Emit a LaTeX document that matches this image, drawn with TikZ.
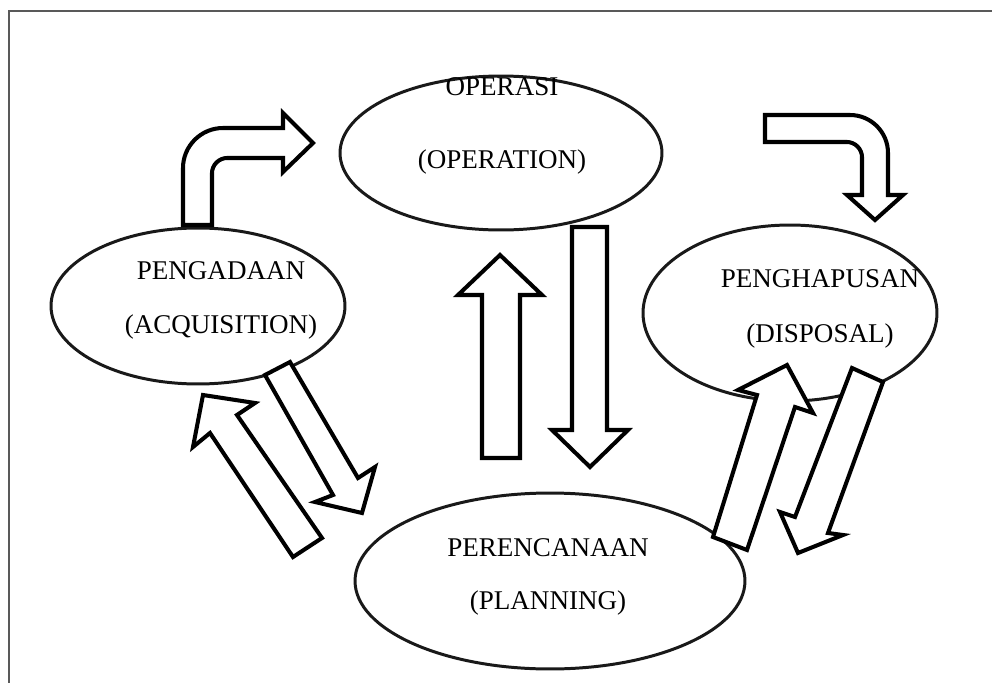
\documentclass[tikz,border=0pt]{standalone}
\usepackage{fontspec}
\setmainfont{Liberation Serif}
\usetikzlibrary{shapes.geometric}
\tikzset{
  phase/.style={draw, ellipse, line width=1.7pt, draw=black!90},
  phasetext/.style={font=\fontsize{15.4}{18}\selectfont, inner sep=0pt, anchor=base},
  blockarrow/.style={draw, fill=white, line width=2.3pt, line join=miter},
}
\begin{document}
\begin{tikzpicture}[x=0.02cm, y=-0.02cm]
        \useasboundingbox (0,0) rectangle (992,683);
        % frame
        \draw[line width=1.1pt, black!65] (9,683) -- (9,11) -- (992,11);
        % phases
        \node[phase, minimum width=6.44cm, minimum height=3.08cm] (operasi) at (501,153) {};
        \node[phase, minimum width=5.88cm, minimum height=3.12cm] (pengadaan) at (198,306) {};
        \node[phase, minimum width=5.88cm, minimum height=3.52cm] (penghapusan) at (790,313) {};
        \node[phase, minimum width=7.8cm, minimum height=3.52cm] (perencanaan) at (550,581) {};
        % labels
        \node[phasetext] (operasi1) at (502,95) {OPERASI};
        \node[phasetext] (operasi2) at (502,168) {(OPERATION)};
        \node[phasetext] (pengadaan1) at (221,279) {PENGADAAN};
        \node[phasetext] (pengadaan2) at (221,333) {(ACQUISITION)};
        \node[phasetext] (penghapusan1) at (820,287) {PENGHAPUSAN};
        \node[phasetext] (penghapusan2) at (820,342) {(DISPOSAL)};
        \node[phasetext] (perencanaan1) at (548,556) {PERENCANAAN};
        \node[phasetext] (perencanaan2) at (548,609) {(PLANNING)};
        % bent arrows
        \draw[blockarrow] (183,225) -- (183,168) .. controls (183,146) and (201,128) .. (223,128)
            -- (283,128) -- (283,113) -- (313,143) -- (283,172) -- (283,158) -- (227,158)
            .. controls (219,158) and (212,165) .. (212,173) -- (212,225) -- cycle;
        \draw[blockarrow] (765,115) -- (850,115) .. controls (871,115) and (888,132) .. (888,153)
            -- (888,195) -- (903,195) -- (875,220) -- (847,195) -- (862,195) -- (862,157)
            .. controls (862,149) and (855,142) .. (847,142) -- (765,142) -- cycle;
        % straight arrows
        \draw[blockarrow] (482,458) -- (482,295) -- (458,295) -- (500,255) -- (542,295) -- (520,295) -- (520,458) -- cycle;
        \draw[blockarrow] (572,227) -- (607,227) -- (607,430) -- (628,430) -- (590,467) -- (552,430) -- (572,430) -- cycle;
        \draw[blockarrow] (265,375) -- (333,495) -- (315,502) -- (362,513) -- (375,467) -- (358,478) -- (290,362) -- cycle;
        \draw[blockarrow] (293,557) -- (210,433) -- (193,447) -- (203,395) -- (255,403) -- (237,415) -- (322,538) -- cycle;
        \draw[blockarrow] (713,537) -- (757,395) -- (738,390) -- (787,365) -- (813,413) -- (795,407) -- (747,550) -- cycle;
        \draw[blockarrow] (852,368) -- (795,517) -- (780,512) -- (798,553) -- (843,535) -- (828,533) -- (883,382) -- cycle;
    \end{tikzpicture}
\end{document}
